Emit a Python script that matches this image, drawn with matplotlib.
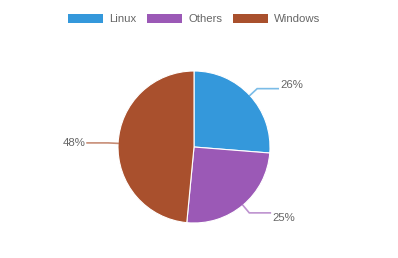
import numpy as np
import matplotlib.pyplot as plt
from matplotlib.patches import Rectangle

plt.rcParams['font.family'] = ['Liberation Sans', 'DejaVu Sans']

labels = ['Linux', 'Others', 'Windows']
values = [26, 25, 48]
colors = ['#3498db', '#9b59b6', '#a9502d']

W, H = 398, 258
fig = plt.figure(figsize=(W / 100, H / 100), dpi=100)
ax = fig.add_axes([0, 0, 1, 1])

cx, cy, r = 194, 111, 76
wedges, _ = ax.pie(values, colors=colors, startangle=90, counterclock=False,
                   center=(cx, cy), radius=r, frame=True,
                   wedgeprops=dict(edgecolor='white', linewidth=0.8))
ax.set_xlim(0, W)
ax.set_ylim(0, H)
ax.axis('off')

fs = 8.2
for w, v, c in zip(wedges, values, colors):
    ang = np.deg2rad((w.theta1 + w.theta2) / 2)
    x0, y0 = cx + r * np.cos(ang), cy + r * np.sin(ang)
    x1, y1 = cx + (r + 10) * np.cos(ang), cy + (r + 10) * np.sin(ang)
    side = 1 if np.cos(ang) >= 0 else -1
    x2 = x1 + side * 21
    ax.plot([x0, x1, x2], [y0, y1, y1], color=c, alpha=0.65, lw=1.2,
            solid_joinstyle='miter')
    s = np.sin(ang)
    va = 'bottom' if s > 0.3 else ('top' if s < -0.3 else 'center')
    ax.text(x2 + side * 2, y1 + (-1 if va == 'bottom' else 0), f'{v}%',
            ha='left' if side > 0 else 'right', va=va,
            color='#666666', fontsize=fs)

handles = [Rectangle((0, 0), 1, 1, facecolor=c, edgecolor='none') for c in colors]
fig.legend(handles, labels, loc='center', bbox_to_anchor=(194 / W, 1 - 19 / H),
           ncol=3, frameon=False, fontsize=fs, labelcolor='#666666',
           handlelength=3.1, handleheight=0.9, handletextpad=0.55,
           columnspacing=0.9, borderpad=0, borderaxespad=0)

fig.savefig('out.png', dpi=100)
